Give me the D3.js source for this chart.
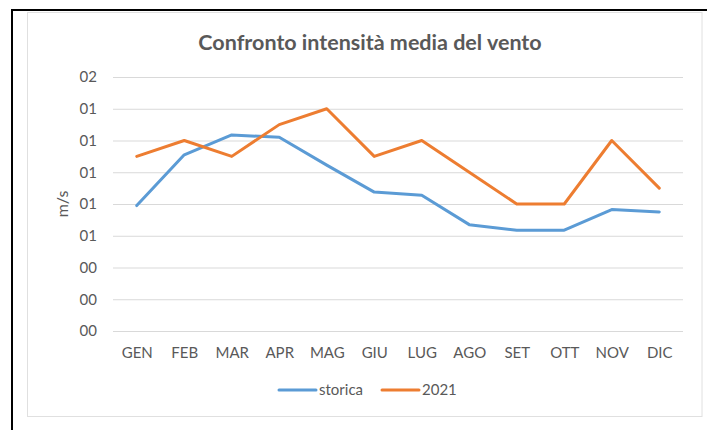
<!DOCTYPE html>
<html>
<head>
<meta charset="utf-8">
<script src="https://cdn.jsdelivr.net/npm/d3@7"></script>
<style>
  html, body { margin: 0; padding: 0; background: #fff; }
  svg { display: block; font-family: Lato, "Open Sans", sans-serif; }
</style>
</head>
<body>
<div id="chart"></div>
<script>
const months = ['GEN', 'FEB', 'MAR', 'APR', 'MAG', 'GIU', 'LUG', 'AGO', 'SET', 'OTT', 'NOV', 'DIC'];
const storica = [0.79, 1.11, 1.235, 1.22, 1.045, 0.875, 0.855, 0.67, 0.635, 0.635, 0.765, 0.75];
const anno2021 = [1.1, 1.2, 1.1, 1.3, 1.4, 1.1, 1.2, 1.0, 0.8, 0.8, 1.2, 0.9];
const yTicks = [0, 0.2, 0.4, 0.6, 0.8, 1.0, 1.2, 1.4, 1.6];
const seriesNames = ['storica', '2021'];

const width = 709, height = 430;
const margin = { top: 77, right: 26, bottom: 99, left: 113 };
const textColor = '#595959';
const labelSize = 15;
const colors = { storica: '#5B9BD5', '2021': '#ED7D31' };

const svg = d3.select('#chart').append('svg')
  .attr('width', width)
  .attr('height', height);

// page frame (black lines top and left)
svg.append('path')
  .attr('d', 'M12,430 V10 H707')
  .attr('fill', 'none')
  .attr('stroke', '#000')
  .attr('stroke-width', 2);

// chart area box
svg.append('rect')
  .attr('x', 27.5).attr('y', 12.5)
  .attr('width', 674.5).attr('height', 404)
  .attr('fill', '#fff')
  .attr('stroke', '#e0e0e0')
  .attr('stroke-width', 1);

svg.append('text')
  .attr('x', 370).attr('y', 50)
  .attr('text-anchor', 'middle')
  .attr('font-size', 21.5)
  .attr('font-weight', 'bold')
  .attr('fill', textColor)
  .text('Confronto intensità media del vento');

const x = d3.scalePoint()
  .domain(months)
  .range([margin.left, width - margin.right])
  .padding(0.5);

const y = d3.scaleLinear()
  .domain([0, 1.6])
  .range([height - margin.bottom, margin.top]);

// gridlines + y labels
const yAxis = d3.axisLeft(y)
  .tickValues(yTicks)
  .tickSize(-(width - margin.left - margin.right))
  .tickPadding(16)
  .tickFormat(d3.format('02.0f'));

const gy = svg.append('g')
  .attr('transform', `translate(${margin.left},0)`)
  .call(yAxis);
gy.select('.domain').remove();
gy.selectAll('line').attr('stroke', '#d9d9d9').attr('stroke-width', 1);
gy.selectAll('text').attr('fill', textColor).attr('font-size', labelSize).attr('font-family', 'Lato');

// x labels
const xAxis = d3.axisBottom(x).tickSize(0).tickPadding(16);
const gx = svg.append('g')
  .attr('transform', `translate(0,${height - margin.bottom})`)
  .call(xAxis);
gx.select('.domain').remove();
gx.selectAll('text').attr('fill', textColor).attr('font-size', labelSize).attr('font-family', 'Lato');

svg.append('text')
  .attr('transform', `translate(68,${y(0.8)}) rotate(-90)`)
  .attr('text-anchor', 'middle')
  .attr('font-size', 16)
  .attr('fill', textColor)
  .text('m/s');

const line = d3.line()
  .x((d, i) => x(months[i]))
  .y(d => y(d));

const data = [
  { name: seriesNames[0], values: storica },
  { name: seriesNames[1], values: anno2021 }
];

svg.selectAll('.series')
  .data(data)
  .enter().append('path')
  .attr('class', 'series')
  .attr('d', d => line(d.values))
  .attr('fill', 'none')
  .attr('stroke', d => colors[d.name])
  .attr('stroke-width', 3)
  .attr('stroke-linejoin', 'round')
  .attr('stroke-linecap', 'round');

// legend
const legendX = [279, 382];
const lg = svg.selectAll('.legend')
  .data(data)
  .enter().append('g')
  .attr('class', 'legend')
  .attr('transform', (d, i) => `translate(${legendX[i]},390)`);

lg.append('line')
  .attr('x1', 0).attr('x2', 37)
  .attr('stroke', d => colors[d.name])
  .attr('stroke-width', 3)
  .attr('stroke-linecap', 'round');

lg.append('text')
  .attr('x', 40).attr('dy', '0.35em')
  .attr('font-size', labelSize)
  .attr('fill', textColor)
  .text(d => d.name);
</script>
</body>
</html>
